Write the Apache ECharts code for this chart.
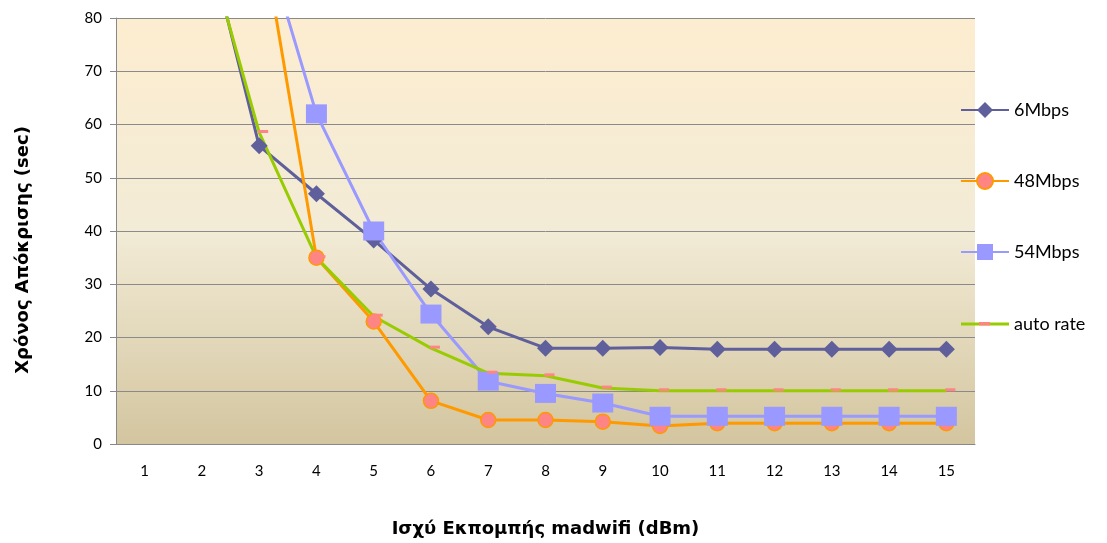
<!DOCTYPE html>
<html>
<head>
<meta charset="utf-8">
<script src="https://cdn.jsdelivr.net/npm/echarts@6/dist/echarts.min.js"></script>
<style>
  html, body { margin: 0; padding: 0; background: #fff; }
  #chart { width: 1107px; height: 543px; }
</style>
</head>
<body>
<div id="chart"></div>
<script>
// x categories (dBm)
const categories = ['1', '2', '3', '4', '5', '6', '7', '8', '9', '10', '11', '12', '13', '14', '15'];

// response times (sec); first points run off the top of the chart
const mbps6 = [100, 99, 56, 47, 38.3, 29.1, 22, 18, 18, 18.1, 17.8, 17.8, 17.8, 17.8, 17.8];
const mbps48 = [100, 100, 99, 35, 23, 8.1, 4.5, 4.5, 4.2, 3.4, 3.9, 3.9, 3.9, 3.9, 3.9];
const mbps54 = [100, 100, 98, 62, 40, 24.4, 11.8, 9.5, 7.7, 5.2, 5.2, 5.2, 5.2, 5.2, 5.2];
const autoRate = [100, 97, 58.5, 35, 24, 18, 13.3, 12.8, 10.5, 10, 10, 10, 10, 10, 10];

const font = "Lato, 'Noto Sans', sans-serif";
const nameFont = "'DejaVu Sans', 'Noto Sans', sans-serif";

// auto rate legend entry: green line with a small pink dash on top (two stacked legends)
const autoLineIcon = 'path://M0,0M48,20M0,8.5L48,8.5L48,11.5L0,11.5Z';
const autoDashIcon = 'path://M0,0M48,20M19,8L30,8L30,11.5L19,11.5Z';

const chartDom = document.getElementById('chart');
if (chartDom) {
    const chart = echarts.init(chartDom);
    const option = {
        animation: false,
        textStyle: { fontFamily: font },
        grid: {
            left: 116, right: 132, top: 18, bottom: 99,
            show: true,
            borderWidth: 0,
            backgroundColor: new echarts.graphic.LinearGradient(0, 0, 0, 1, [
                { offset: 0, color: '#fdedd0' },
                { offset: 0.5, color: '#f2ebd6' },
                { offset: 1, color: '#d3c59f' }
            ])
        },
        legend: [
            {
                orient: 'vertical',
                left: 955,
                top: 96,
                itemWidth: 48,
                itemHeight: 20,
                itemGap: 53,
                textStyle: { fontSize: 18, color: '#000', fontFamily: font },
                data: [
                    { name: '6Mbps' },
                    { name: '48Mbps' },
                    { name: '54Mbps' },
                    { name: 'auto rate', icon: autoLineIcon, itemStyle: { color: '#99cc00' } }
                ]
            },
            {
                orient: 'vertical',
                left: 955,
                top: 309,
                z: 10,
                itemWidth: 48,
                itemHeight: 20,
                textStyle: { fontSize: 18, color: 'rgba(0,0,0,0)', fontFamily: font },
                data: [
                    { name: 'auto rate', icon: autoDashIcon, itemStyle: { color: '#ff8585' } }
                ]
            }
        ],
        xAxis: {
            type: 'category',
            data: categories,
            boundaryGap: true,
            name: 'Ισχύ Εκπομπής madwifi (dBm)',
            nameLocation: 'middle',
            nameGap: 76,
            nameTextStyle: { fontSize: 18, fontWeight: 'bold', color: '#000', fontFamily: nameFont },
            axisLine: { lineStyle: { color: '#888' } },
            axisTick: { show: false },
            axisLabel: { fontSize: 15, color: '#000', margin: 20 }
        },
        yAxis: {
            type: 'value',
            min: 0,
            max: 80,
            interval: 10,
            name: 'Χρόνος Απόκρισης (sec)',
            nameLocation: 'middle',
            nameGap: 84,
            nameTextStyle: {
                fontSize: 18, fontWeight: 'bold', color: '#000', fontFamily: nameFont,
                padding: [0, 38, 0, 0]
            },
            axisLine: { show: true, lineStyle: { color: '#888' } },
            axisTick: { show: true, length: 6, lineStyle: { color: '#888' } },
            axisLabel: { fontSize: 15, color: '#000', margin: 14 },
            splitLine: { lineStyle: { color: '#8a8a8a', width: 1 } }
        },
        series: [
            {
                name: '6Mbps',
                type: 'line',
                data: mbps6,
                symbol: 'diamond',
                symbolSize: 17,
                lineStyle: { color: '#5f5f9b', width: 3 },
                itemStyle: { color: '#5f5f9b' }
            },
            {
                name: '48Mbps',
                type: 'line',
                data: mbps48,
                symbol: 'circle',
                symbolSize: 15,
                lineStyle: { color: '#ff9900', width: 3 },
                itemStyle: { color: '#ff8585', borderColor: '#ff9900', borderWidth: 1.5 }
            },
            {
                name: '54Mbps',
                type: 'line',
                data: mbps54,
                symbol: 'rect',
                symbolSize: [21, 19],
                lineStyle: { color: '#9999ff', width: 3 },
                itemStyle: { color: '#9999ff' }
            },
            {
                name: 'auto rate',
                type: 'line',
                data: autoRate,
                symbol: 'rect',
                symbolSize: [10, 3],
                symbolOffset: [4, -1],
                lineStyle: { color: '#99cc00', width: 3 },
                itemStyle: { color: '#ff8585' }
            }
        ]
    };
    chart.setOption(option);
    window.addEventListener('resize', () => chart.resize());
}
</script>
</body>
</html>
